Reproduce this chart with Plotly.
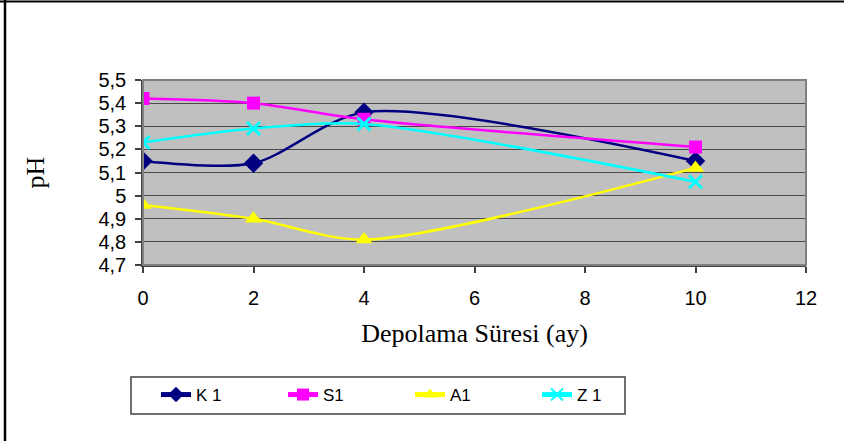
import plotly.graph_objects as go

# Storage time (months) and pH readings per sample
months = [0, 2, 4, 10]
k1 = [5.15, 5.14, 5.36, 5.15]
s1 = [5.42, 5.40, 5.33, 5.21]
a1 = [4.96, 4.90, 4.81, 5.12]
z1 = [5.23, 5.29, 5.31, 5.06]

y_ticks = [4.7, 4.8, 4.9, 5.0, 5.1, 5.2, 5.3, 5.4, 5.5]
y_tick_text = ["4,7", "4,8", "4,9", "5", "5,1", "5,2", "5,3", "5,4", "5,5"]
x_ticks = [0, 2, 4, 6, 8, 10, 12]

series = [
    ("K 1", k1, "#000080", "diamond", 15),
    ("S1", s1, "#FF00FF", "square", 13),
    ("A1", a1, "#FFFF00", "triangle-up", 15),
    ("Z 1", z1, "#00FFFF", "x-thin", 13),
]

fig = go.Figure()
for name, vals, color, sym, size in series:
    marker = dict(symbol=sym, size=size, color=color)
    if sym == "x-thin":
        marker["line"] = dict(color=color, width=3)
    fig.add_trace(go.Scatter(
        x=months, y=vals, name=name, mode="lines+markers",
        line=dict(color=color, width=2.5, shape="spline", smoothing=0.8),
        marker=marker,
    ))

# pixel geometry of the plotting area
W, H = 844, 441
ML, MR, MT, MB = 143, 38, 80, 176
PW, PH = W - ML - MR, H - MT - MB


def px(x):
    return (x - ML) / PW


def py(y):
    return (H - MB - y) / PH


tick_font = dict(family="Liberation Sans, Arial", size=20, color="black")

fig.update_layout(
    width=W, height=H,
    margin=dict(l=ML, r=MR, t=MT, b=MB),
    paper_bgcolor="white",
    plot_bgcolor="#C0C0C0",
    separators=",.",
    font=dict(family="Liberation Sans, Arial", size=19, color="black"),
    showlegend=True,
    legend=dict(
        orientation="h",
        x=px(156), y=py(377), xanchor="left", yanchor="top",
        borderwidth=0, bgcolor="rgba(0,0,0,0)",
        entrywidth=82, entrywidthmode="pixels",
        font=dict(family="Liberation Sans, Arial", size=17),
        itemsizing="constant",
    ),
    xaxis=dict(
        range=[0, 12], tickvals=x_ticks, showgrid=False, zeroline=False,
        tickfont=tick_font,
        ticks="outside", ticklen=6, tickcolor="#404040", tickwidth=1.5,
        ticklabelstandoff=8,
        showline=True, linecolor="#404040", linewidth=1.5, mirror=False,
        title=dict(text="Depolama Süresi (ay)", standoff=16,
                   font=dict(family="Liberation Serif, Times New Roman", size=26)),
    ),
    yaxis=dict(
        range=[4.7, 5.5], tickvals=y_ticks, ticktext=y_tick_text,
        showgrid=True, gridcolor="#4a4a4a", gridwidth=1.2, zeroline=False,
        tickfont=tick_font,
        ticks="outside", ticklen=6, tickcolor="#404040", tickwidth=1.5,
        ticklabelstandoff=5,
        showline=True, linecolor="#404040", linewidth=1.5,
        title=dict(text="pH", standoff=46,
                   font=dict(family="Liberation Serif, Times New Roman", size=26)),
    ),
    shapes=[
        # plot area border
        dict(type="rect", xref="paper", yref="paper", x0=0, x1=1, y0=0, y1=1,
             line=dict(color="#808080", width=2), layer="above"),
        # legend box
        dict(type="rect", xref="paper", yref="paper",
             x0=px(131), x1=px(625), y0=py(414), y1=py(377),
             line=dict(color="#404040", width=1.5), fillcolor="white", layer="below"),
        # outer chart frame: top and left edges
        dict(type="line", xref="paper", yref="paper",
             x0=px(0), x1=px(W), y0=py(1.5), y1=py(1.5),
             line=dict(color="black", width=2)),
        dict(type="line", xref="paper", yref="paper",
             x0=px(5), x1=px(5), y0=py(H), y1=py(0),
             line=dict(color="black", width=2.5)),
    ],
)

fig.write_html("out.html")
